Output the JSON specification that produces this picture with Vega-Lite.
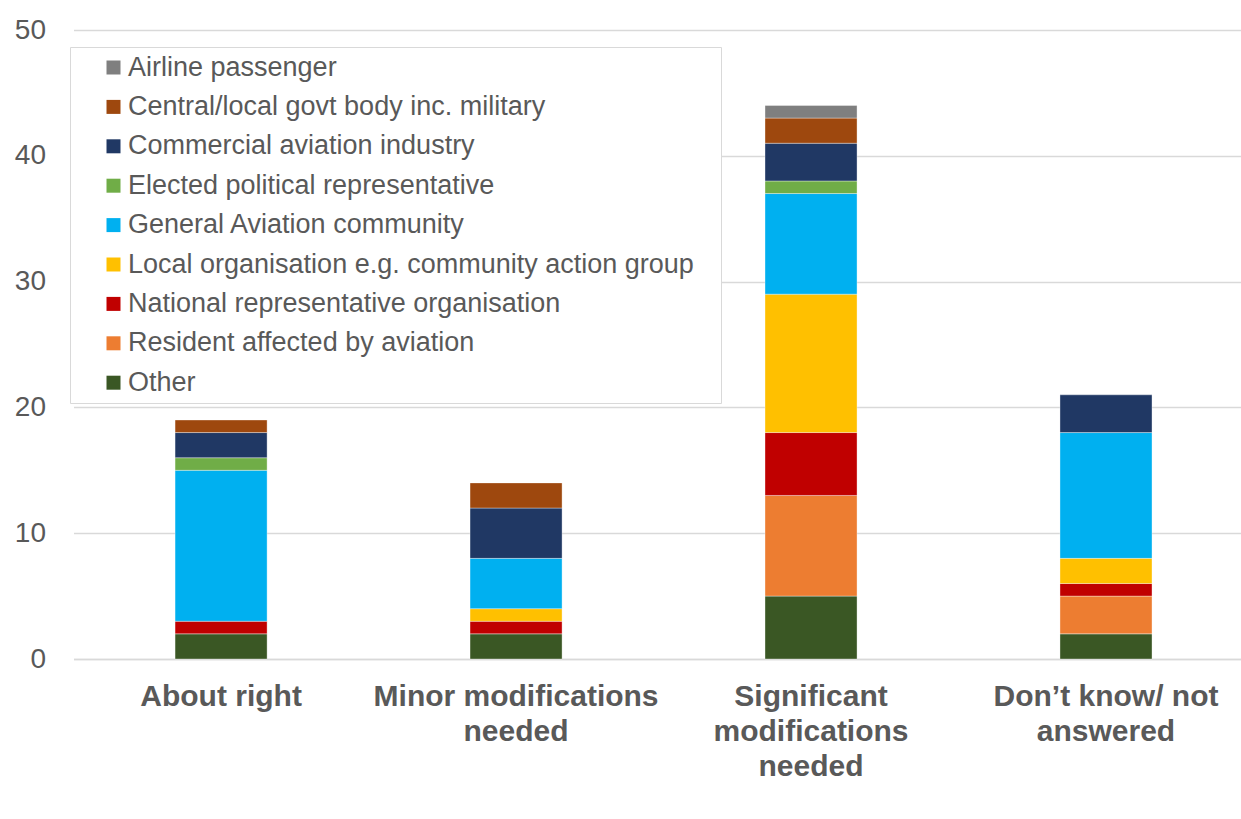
{
  "$schema": "https://vega.github.io/schema/vega-lite/v6.json",
  "width": 1167.5,
  "height": 629,
  "autosize": "none",
  "padding": {"left": 73.5, "top": 30, "right": 0, "bottom": 160},
  "background": "white",
  "config": {
    "view": {"stroke": null},
    "font": "Liberation Sans"
  },
  "data": {
    "values": [
      {"response": "About right", "group": "Other", "count": 2},
      {"response": "About right", "group": "National representative organisation", "count": 1},
      {"response": "About right", "group": "General Aviation community", "count": 12},
      {"response": "About right", "group": "Elected political representative", "count": 1},
      {"response": "About right", "group": "Commercial aviation industry", "count": 2},
      {"response": "About right", "group": "Central/local govt body inc. military", "count": 1},
      {"response": "Minor modifications needed", "group": "Other", "count": 2},
      {"response": "Minor modifications needed", "group": "National representative organisation", "count": 1},
      {"response": "Minor modifications needed", "group": "Local organisation e.g. community action group", "count": 1},
      {"response": "Minor modifications needed", "group": "General Aviation community", "count": 4},
      {"response": "Minor modifications needed", "group": "Commercial aviation industry", "count": 4},
      {"response": "Minor modifications needed", "group": "Central/local govt body inc. military", "count": 2},
      {"response": "Significant modifications needed", "group": "Other", "count": 5},
      {"response": "Significant modifications needed", "group": "Resident affected by aviation", "count": 8},
      {"response": "Significant modifications needed", "group": "National representative organisation", "count": 5},
      {"response": "Significant modifications needed", "group": "Local organisation e.g. community action group", "count": 11},
      {"response": "Significant modifications needed", "group": "General Aviation community", "count": 8},
      {"response": "Significant modifications needed", "group": "Elected political representative", "count": 1},
      {"response": "Significant modifications needed", "group": "Commercial aviation industry", "count": 3},
      {"response": "Significant modifications needed", "group": "Central/local govt body inc. military", "count": 2},
      {"response": "Significant modifications needed", "group": "Airline passenger", "count": 1},
      {"response": "Don’t know/ not answered", "group": "Other", "count": 2},
      {"response": "Don’t know/ not answered", "group": "Resident affected by aviation", "count": 3},
      {"response": "Don’t know/ not answered", "group": "National representative organisation", "count": 1},
      {"response": "Don’t know/ not answered", "group": "Local organisation e.g. community action group", "count": 2},
      {"response": "Don’t know/ not answered", "group": "General Aviation community", "count": 10},
      {"response": "Don’t know/ not answered", "group": "Commercial aviation industry", "count": 3}
    ]
  },
  "transform": [
    {"calculate": "indexof(['Other','Resident affected by aviation','National representative organisation','Local organisation e.g. community action group','General Aviation community','Elected political representative','Commercial aviation industry','Central/local govt body inc. military','Airline passenger'], datum.group)", "as": "stackRank"}
  ],
  "mark": {"type": "bar", "stroke": "white", "strokeWidth": 0.6, "strokeOpacity": 0.6},
  "encoding": {
    "x": {
      "field": "response",
      "type": "nominal",
      "sort": ["About right", "Minor modifications needed", "Significant modifications needed", "Don’t know/ not answered"],
      "scale": {"paddingInner": 0.688, "paddingOuter": 0.323, "align": 0.533},
      "axis": {
        "title": null,
        "labelAngle": 0,
        "ticks": false,
        "domain": true,
        "domainColor": "#d9d9d9",
        "domainWidth": 1.5,
        "labelFont": "Liberation Sans",
        "labelFontSize": 30,
        "labelFontWeight": "bold",
        "labelColor": "#595959",
        "labelPadding": 22,
        "labelLineHeight": 35,
        "labelBaseline": "top",
        "labelLimit": 1000,
        "labelExpr": "datum.value == 'Minor modifications needed' ? ['Minor modifications', 'needed'] : datum.value == 'Significant modifications needed' ? ['Significant', 'modifications', 'needed'] : datum.value == 'Don’t know/ not answered' ? ['Don’t know/ not', 'answered'] : datum.value"
      }
    },
    "y": {
      "field": "count",
      "type": "quantitative",
      "stack": "zero",
      "scale": {"domain": [0, 50], "nice": false},
      "axis": {
        "title": null,
        "values": [0, 10, 20, 30, 40, 50],
        "ticks": false,
        "domain": false,
        "gridColor": "#d9d9d9",
        "gridWidth": 1.5,
        "labelFont": "Liberation Sans",
        "labelFontSize": 28,
        "labelColor": "#595959",
        "labelPadding": 28
      }
    },
    "color": {
      "field": "group",
      "type": "nominal",
      "scale": {
        "domain": ["Airline passenger", "Central/local govt body inc. military", "Commercial aviation industry", "Elected political representative", "General Aviation community", "Local organisation e.g. community action group", "National representative organisation", "Resident affected by aviation", "Other"],
        "range": ["#7f7f7f", "#9e480e", "#203864", "#70ad47", "#00b0f0", "#ffc000", "#c00000", "#ed7d31", "#3a5724"]
      },
      "legend": {
        "title": null,
        "orient": "none",
        "legendX": -3.5,
        "legendY": 17,
        "padding": 7,
        "fillColor": "white",
        "strokeColor": "#d9d9d9",
        "symbolType": "square",
        "symbolSize": 196,
        "symbolStrokeWidth": 0,
        "symbolOffset": 23,
        "labelOffset": 1,
        "labelFont": "Liberation Sans",
        "labelFontSize": 27,
        "labelColor": "#595959",
        "labelLimit": 800,
        "labelExpr": "datum.label + '\u2800'",
        "rowPadding": 11.4
      }
    },
    "order": {"field": "stackRank", "type": "quantitative", "sort": "ascending"}
  }
}
